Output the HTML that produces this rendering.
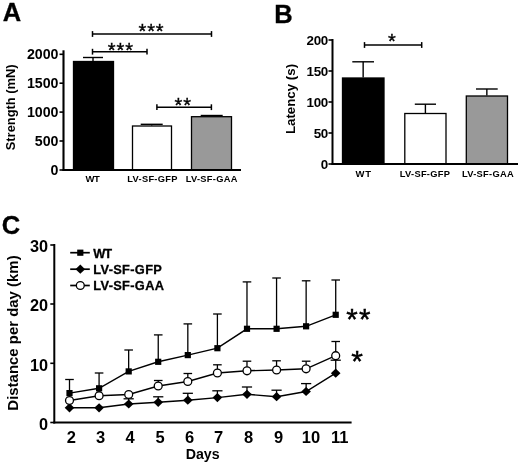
<!DOCTYPE html>
<html lang="en">
<head>
<meta charset="utf-8">
<title>Figure</title>
<style>
html,body{margin:0;padding:0;background:#fff;}
body{width:520px;height:465px;overflow:hidden;}
svg{display:block;will-change:transform;filter:blur(0.35px);font-family:"Liberation Sans", sans-serif;fill:#000;}
</style>
</head>
<body>
<svg width="520" height="465" viewBox="0 0 520 465">
<rect x="0" y="0" width="520" height="465" fill="#fff"/>
<text x="2.7" y="20.5" font-size="25.5" font-weight="bold" text-anchor="start" stroke="#000" stroke-width="0.3">A</text>
<line x1="93.0" y1="57.5" x2="93.0" y2="61" stroke="#000" stroke-width="1.4" />
<line x1="83" y1="57.5" x2="103" y2="57.5" stroke="#000" stroke-width="1.4" />
<rect x="73.5" y="61.5" width="40" height="108.5" fill="#000" stroke="#000" stroke-width="1.3"/>
<line x1="151.7" y1="124.3" x2="151.7" y2="125.5" stroke="#000" stroke-width="1.4" />
<line x1="140.7" y1="124.3" x2="162.7" y2="124.3" stroke="#000" stroke-width="1.4" />
<rect x="132.5" y="126.0" width="39" height="44.0" fill="#fff" stroke="#000" stroke-width="1.3"/>
<line x1="211.7" y1="115.5" x2="211.7" y2="116.2" stroke="#000" stroke-width="1.4" />
<line x1="200.7" y1="115.5" x2="222.7" y2="115.5" stroke="#000" stroke-width="1.4" />
<rect x="191.5" y="116.7" width="40" height="53.3" fill="#999" stroke="#000" stroke-width="1.3"/>
<line x1="63.5" y1="50.3" x2="63.5" y2="171" stroke="#000" stroke-width="2.1" />
<line x1="62.5" y1="170" x2="241" y2="170" stroke="#000" stroke-width="2" />
<line x1="59.5" y1="54.3" x2="63.5" y2="54.3" stroke="#000" stroke-width="1.6" />
<text x="58.5" y="59.3" font-size="14.2" font-weight="bold" text-anchor="end" >2000</text>
<line x1="59.5" y1="83.2" x2="63.5" y2="83.2" stroke="#000" stroke-width="1.6" />
<text x="58.5" y="88.2" font-size="14.2" font-weight="bold" text-anchor="end" >1500</text>
<line x1="59.5" y1="112.1" x2="63.5" y2="112.1" stroke="#000" stroke-width="1.6" />
<text x="58.5" y="117.1" font-size="14.2" font-weight="bold" text-anchor="end" >1000</text>
<line x1="59.5" y1="141" x2="63.5" y2="141" stroke="#000" stroke-width="1.6" />
<text x="58.5" y="146" font-size="14.2" font-weight="bold" text-anchor="end" >500</text>
<line x1="59.5" y1="170" x2="63.5" y2="170" stroke="#000" stroke-width="1.6" />
<text x="58.5" y="175" font-size="14.2" font-weight="bold" text-anchor="end" >0</text>
<text transform="translate(15.2,107.3) rotate(-90)" font-size="12.9" font-weight="bold" text-anchor="middle" >Strength (mN)</text>
<line x1="92.5" y1="34" x2="211.5" y2="34" stroke="#000" stroke-width="1.5" />
<line x1="92.5" y1="31.1" x2="92.5" y2="36.9" stroke="#000" stroke-width="1.5" />
<line x1="211.5" y1="31.1" x2="211.5" y2="36.9" stroke="#000" stroke-width="1.5" />
<line x1="92.5" y1="51.7" x2="147" y2="51.7" stroke="#000" stroke-width="1.5" />
<line x1="92.5" y1="48.800000000000004" x2="92.5" y2="54.6" stroke="#000" stroke-width="1.5" />
<line x1="147" y1="48.800000000000004" x2="147" y2="54.6" stroke="#000" stroke-width="1.5" />
<line x1="156.9" y1="107.2" x2="211.4" y2="107.2" stroke="#000" stroke-width="1.5" />
<line x1="156.9" y1="104.3" x2="156.9" y2="110.10000000000001" stroke="#000" stroke-width="1.5" />
<line x1="211.4" y1="104.3" x2="211.4" y2="110.10000000000001" stroke="#000" stroke-width="1.5" />
<text x="151.5" y="38.3" font-size="20" font-weight="normal" text-anchor="middle" stroke="#000" stroke-width="0.35" letter-spacing="0.9">***</text>
<text x="120.8" y="57" font-size="20" font-weight="normal" text-anchor="middle" stroke="#000" stroke-width="0.35" letter-spacing="0.9">***</text>
<text x="183.2" y="111.5" font-size="20" font-weight="normal" text-anchor="middle" stroke="#000" stroke-width="0.35" letter-spacing="0.9">**</text>
<text x="92.5" y="182.3" font-size="9.5" font-weight="bold" text-anchor="middle" letter-spacing="-0.5">WT</text>
<text x="152.5" y="182" font-size="9.3" font-weight="bold" text-anchor="middle" letter-spacing="0.3">LV-SF-GFP</text>
<text x="211.7" y="182" font-size="9.3" font-weight="bold" text-anchor="middle" letter-spacing="0.3">LV-SF-GAA</text>
<text x="274.2" y="23" font-size="25.5" font-weight="bold" text-anchor="start" stroke="#000" stroke-width="0.3">B</text>
<line x1="363.15" y1="61.8" x2="363.15" y2="77.5" stroke="#000" stroke-width="1.4" />
<line x1="352.3" y1="61.8" x2="374" y2="61.8" stroke="#000" stroke-width="1.4" />
<rect x="342.5" y="78.0" width="41.5" height="86.0" fill="#000" stroke="#000" stroke-width="1.3"/>
<line x1="425.4" y1="104.2" x2="425.4" y2="113" stroke="#000" stroke-width="1.4" />
<line x1="414.8" y1="104.2" x2="436" y2="104.2" stroke="#000" stroke-width="1.4" />
<rect x="404.8" y="113.5" width="41.19999999999999" height="50.5" fill="#fff" stroke="#000" stroke-width="1.3"/>
<line x1="486.85" y1="89" x2="486.85" y2="95.5" stroke="#000" stroke-width="1.4" />
<line x1="476" y1="89" x2="497.7" y2="89" stroke="#000" stroke-width="1.4" />
<rect x="466.3" y="96.0" width="41.19999999999999" height="68.0" fill="#999" stroke="#000" stroke-width="1.3"/>
<line x1="332.5" y1="39" x2="332.5" y2="165" stroke="#000" stroke-width="2" />
<line x1="331.5" y1="164" x2="518" y2="164" stroke="#000" stroke-width="2" />
<line x1="328.5" y1="40" x2="332.5" y2="40" stroke="#000" stroke-width="1.6" />
<text x="327.9" y="44.9" font-size="13.4" font-weight="bold" text-anchor="end" letter-spacing="-0.35">200</text>
<line x1="328.5" y1="71" x2="332.5" y2="71" stroke="#000" stroke-width="1.6" />
<text x="327.9" y="75.9" font-size="13.4" font-weight="bold" text-anchor="end" letter-spacing="-0.35">150</text>
<line x1="328.5" y1="102" x2="332.5" y2="102" stroke="#000" stroke-width="1.6" />
<text x="327.9" y="106.9" font-size="13.4" font-weight="bold" text-anchor="end" letter-spacing="-0.35">100</text>
<line x1="328.5" y1="133" x2="332.5" y2="133" stroke="#000" stroke-width="1.6" />
<text x="327.9" y="137.9" font-size="13.4" font-weight="bold" text-anchor="end" letter-spacing="-0.35">50</text>
<line x1="328.5" y1="164" x2="332.5" y2="164" stroke="#000" stroke-width="1.6" />
<text x="327.9" y="168.9" font-size="13.4" font-weight="bold" text-anchor="end" letter-spacing="-0.35">0</text>
<text transform="translate(294.6,99) rotate(-90)" font-size="13.3" font-weight="bold" text-anchor="middle" >Latency (s)</text>
<line x1="364.5" y1="45" x2="421.7" y2="45" stroke="#000" stroke-width="1.5" />
<line x1="364.5" y1="42.1" x2="364.5" y2="47.9" stroke="#000" stroke-width="1.5" />
<line x1="421.7" y1="42.1" x2="421.7" y2="47.9" stroke="#000" stroke-width="1.5" />
<text x="392.3" y="48.3" font-size="20" font-weight="normal" text-anchor="middle" stroke="#000" stroke-width="0.35" letter-spacing="0.9">*</text>
<text x="363.6" y="176.7" font-size="9.5" font-weight="bold" text-anchor="middle" letter-spacing="0.6">WT</text>
<text x="425" y="176.7" font-size="9.3" font-weight="bold" text-anchor="middle" letter-spacing="0.3">LV-SF-GFP</text>
<text x="488" y="176.7" font-size="9.3" font-weight="bold" text-anchor="middle" letter-spacing="0.3">LV-SF-GAA</text>
<text x="1.7" y="233.6" font-size="25.5" font-weight="bold" text-anchor="start" stroke="#000" stroke-width="0.3">C</text>
<line x1="69.5" y1="393.1" x2="69.5" y2="379.5" stroke="#000" stroke-width="1.3" />
<line x1="65.2" y1="379.5" x2="73.8" y2="379.5" stroke="#000" stroke-width="1.3" />
<line x1="99.08" y1="388.3" x2="99.08" y2="373" stroke="#000" stroke-width="1.3" />
<line x1="94.78" y1="373" x2="103.38" y2="373" stroke="#000" stroke-width="1.3" />
<line x1="128.66" y1="371.4" x2="128.66" y2="350" stroke="#000" stroke-width="1.3" />
<line x1="124.36" y1="350" x2="132.96" y2="350" stroke="#000" stroke-width="1.3" />
<line x1="158.24" y1="361.8" x2="158.24" y2="334.9" stroke="#000" stroke-width="1.3" />
<line x1="153.94" y1="334.9" x2="162.54000000000002" y2="334.9" stroke="#000" stroke-width="1.3" />
<line x1="187.82" y1="355.1" x2="187.82" y2="323.9" stroke="#000" stroke-width="1.3" />
<line x1="183.51999999999998" y1="323.9" x2="192.12" y2="323.9" stroke="#000" stroke-width="1.3" />
<line x1="217.39999999999998" y1="348.2" x2="217.39999999999998" y2="314" stroke="#000" stroke-width="1.3" />
<line x1="213.09999999999997" y1="314" x2="221.7" y2="314" stroke="#000" stroke-width="1.3" />
<line x1="246.98" y1="328.8" x2="246.98" y2="281.9" stroke="#000" stroke-width="1.3" />
<line x1="242.67999999999998" y1="281.9" x2="251.28" y2="281.9" stroke="#000" stroke-width="1.3" />
<line x1="276.56" y1="328.8" x2="276.56" y2="278" stroke="#000" stroke-width="1.3" />
<line x1="272.26" y1="278" x2="280.86" y2="278" stroke="#000" stroke-width="1.3" />
<line x1="306.14" y1="326.3" x2="306.14" y2="280.8" stroke="#000" stroke-width="1.3" />
<line x1="301.84" y1="280.8" x2="310.44" y2="280.8" stroke="#000" stroke-width="1.3" />
<line x1="335.71999999999997" y1="314.8" x2="335.71999999999997" y2="280" stroke="#000" stroke-width="1.3" />
<line x1="331.41999999999996" y1="280" x2="340.02" y2="280" stroke="#000" stroke-width="1.3" />
<line x1="128.66" y1="404" x2="128.66" y2="398.8" stroke="#000" stroke-width="1.3" />
<line x1="123.56" y1="398.8" x2="133.76" y2="398.8" stroke="#000" stroke-width="1.3" />
<line x1="158.24" y1="402.3" x2="158.24" y2="396.8" stroke="#000" stroke-width="1.3" />
<line x1="153.14000000000001" y1="396.8" x2="163.34" y2="396.8" stroke="#000" stroke-width="1.3" />
<line x1="187.82" y1="400.2" x2="187.82" y2="393.3" stroke="#000" stroke-width="1.3" />
<line x1="182.72" y1="393.3" x2="192.92" y2="393.3" stroke="#000" stroke-width="1.3" />
<line x1="217.39999999999998" y1="397.6" x2="217.39999999999998" y2="390.8" stroke="#000" stroke-width="1.3" />
<line x1="212.29999999999998" y1="390.8" x2="222.49999999999997" y2="390.8" stroke="#000" stroke-width="1.3" />
<line x1="246.98" y1="394.3" x2="246.98" y2="387" stroke="#000" stroke-width="1.3" />
<line x1="241.88" y1="387" x2="252.07999999999998" y2="387" stroke="#000" stroke-width="1.3" />
<line x1="276.56" y1="396.7" x2="276.56" y2="390.2" stroke="#000" stroke-width="1.3" />
<line x1="271.46" y1="390.2" x2="281.66" y2="390.2" stroke="#000" stroke-width="1.3" />
<line x1="306.14" y1="391.5" x2="306.14" y2="383.6" stroke="#000" stroke-width="1.3" />
<line x1="301.03999999999996" y1="383.6" x2="311.24" y2="383.6" stroke="#000" stroke-width="1.3" />
<line x1="335.71999999999997" y1="373.2" x2="335.71999999999997" y2="360.2" stroke="#000" stroke-width="1.3" />
<line x1="330.61999999999995" y1="360.2" x2="340.82" y2="360.2" stroke="#000" stroke-width="1.3" />
<line x1="158.24" y1="386" x2="158.24" y2="380.5" stroke="#000" stroke-width="1.3" />
<line x1="153.94" y1="380.5" x2="162.54000000000002" y2="380.5" stroke="#000" stroke-width="1.3" />
<line x1="187.82" y1="381.5" x2="187.82" y2="373.5" stroke="#000" stroke-width="1.3" />
<line x1="183.51999999999998" y1="373.5" x2="192.12" y2="373.5" stroke="#000" stroke-width="1.3" />
<line x1="217.39999999999998" y1="373" x2="217.39999999999998" y2="364.8" stroke="#000" stroke-width="1.3" />
<line x1="213.09999999999997" y1="364.8" x2="221.7" y2="364.8" stroke="#000" stroke-width="1.3" />
<line x1="246.98" y1="370.8" x2="246.98" y2="361.2" stroke="#000" stroke-width="1.3" />
<line x1="242.67999999999998" y1="361.2" x2="251.28" y2="361.2" stroke="#000" stroke-width="1.3" />
<line x1="276.56" y1="370" x2="276.56" y2="360.8" stroke="#000" stroke-width="1.3" />
<line x1="272.26" y1="360.8" x2="280.86" y2="360.8" stroke="#000" stroke-width="1.3" />
<line x1="306.14" y1="368.8" x2="306.14" y2="361.2" stroke="#000" stroke-width="1.3" />
<line x1="301.84" y1="361.2" x2="310.44" y2="361.2" stroke="#000" stroke-width="1.3" />
<line x1="335.71999999999997" y1="355.7" x2="335.71999999999997" y2="341.5" stroke="#000" stroke-width="1.3" />
<line x1="331.41999999999996" y1="341.5" x2="340.02" y2="341.5" stroke="#000" stroke-width="1.3" />
<polyline points="69.5,393.1 99.1,388.3 128.7,371.4 158.2,361.8 187.8,355.1 217.4,348.2 247.0,328.8 276.6,328.8 306.1,326.3 335.7,314.8" fill="none" stroke="#000" stroke-width="1.4"/>
<polyline points="69.5,407.8 99.1,407.8 128.7,404 158.2,402.3 187.8,400.2 217.4,397.6 247.0,394.3 276.6,396.7 306.1,391.5 335.7,373.2" fill="none" stroke="#000" stroke-width="1.4"/>
<polyline points="69.5,400.5 99.1,395.7 128.7,394.5 158.2,386 187.8,381.5 217.4,373 247.0,370.8 276.6,370 306.1,368.8 335.7,355.7" fill="none" stroke="#000" stroke-width="1.4"/>
<rect x="66.4" y="390.0" width="6.2" height="6.2" fill="#000"/>
<rect x="96.0" y="385.2" width="6.2" height="6.2" fill="#000"/>
<rect x="125.6" y="368.3" width="6.2" height="6.2" fill="#000"/>
<rect x="155.1" y="358.7" width="6.2" height="6.2" fill="#000"/>
<rect x="184.7" y="352.0" width="6.2" height="6.2" fill="#000"/>
<rect x="214.3" y="345.1" width="6.2" height="6.2" fill="#000"/>
<rect x="243.9" y="325.7" width="6.2" height="6.2" fill="#000"/>
<rect x="273.5" y="325.7" width="6.2" height="6.2" fill="#000"/>
<rect x="303.0" y="323.2" width="6.2" height="6.2" fill="#000"/>
<rect x="332.6" y="311.7" width="6.2" height="6.2" fill="#000"/>
<polygon points="64.7,407.8 69.5,403.2 74.3,407.8 69.5,412.40000000000003" fill="#000"/>
<polygon points="94.3,407.8 99.1,403.2 103.9,407.8 99.1,412.40000000000003" fill="#000"/>
<polygon points="123.9,404 128.7,399.4 133.5,404 128.7,408.6" fill="#000"/>
<polygon points="153.4,402.3 158.2,397.7 163.0,402.3 158.2,406.90000000000003" fill="#000"/>
<polygon points="183.0,400.2 187.8,395.59999999999997 192.6,400.2 187.8,404.8" fill="#000"/>
<polygon points="212.6,397.6 217.4,393.0 222.2,397.6 217.4,402.20000000000005" fill="#000"/>
<polygon points="242.2,394.3 247.0,389.7 251.8,394.3 247.0,398.90000000000003" fill="#000"/>
<polygon points="271.8,396.7 276.6,392.09999999999997 281.4,396.7 276.6,401.3" fill="#000"/>
<polygon points="301.3,391.5 306.1,386.9 310.9,391.5 306.1,396.1" fill="#000"/>
<polygon points="330.9,373.2 335.7,368.59999999999997 340.5,373.2 335.7,377.8" fill="#000"/>
<circle cx="69.5" cy="400.5" r="3.95" fill="#fff" stroke="#000" stroke-width="1.3"/>
<circle cx="99.1" cy="395.7" r="3.95" fill="#fff" stroke="#000" stroke-width="1.3"/>
<circle cx="128.7" cy="394.5" r="3.95" fill="#fff" stroke="#000" stroke-width="1.3"/>
<circle cx="158.2" cy="386" r="3.95" fill="#fff" stroke="#000" stroke-width="1.3"/>
<circle cx="187.8" cy="381.5" r="3.95" fill="#fff" stroke="#000" stroke-width="1.3"/>
<circle cx="217.4" cy="373" r="3.95" fill="#fff" stroke="#000" stroke-width="1.3"/>
<circle cx="247.0" cy="370.8" r="3.95" fill="#fff" stroke="#000" stroke-width="1.3"/>
<circle cx="276.6" cy="370" r="3.95" fill="#fff" stroke="#000" stroke-width="1.3"/>
<circle cx="306.1" cy="368.8" r="3.95" fill="#fff" stroke="#000" stroke-width="1.3"/>
<circle cx="335.7" cy="355.7" r="3.95" fill="#fff" stroke="#000" stroke-width="1.3"/>
<line x1="54.3" y1="244" x2="54.3" y2="423.5" stroke="#000" stroke-width="2" />
<line x1="53.3" y1="422.5" x2="351.6" y2="422.5" stroke="#000" stroke-width="2" />
<line x1="50.3" y1="245" x2="54.3" y2="245" stroke="#000" stroke-width="1.6" />
<text x="48" y="252.4" font-size="16.3" font-weight="bold" text-anchor="end" >30</text>
<line x1="50.3" y1="304" x2="54.3" y2="304" stroke="#000" stroke-width="1.6" />
<text x="48" y="311.4" font-size="16.3" font-weight="bold" text-anchor="end" >20</text>
<line x1="50.3" y1="363.3" x2="54.3" y2="363.3" stroke="#000" stroke-width="1.6" />
<text x="48" y="370.7" font-size="16.3" font-weight="bold" text-anchor="end" >10</text>
<line x1="50.3" y1="422.5" x2="54.3" y2="422.5" stroke="#000" stroke-width="1.6" />
<text x="48" y="429.9" font-size="16.3" font-weight="bold" text-anchor="end" >0</text>
<text transform="translate(18.2,333) rotate(-90)" font-size="14.95" font-weight="bold" text-anchor="middle" >Distance per day (km)</text>
<text x="71.4" y="443" font-size="16.5" font-weight="bold" text-anchor="middle" >2</text>
<text x="100.5" y="443" font-size="16.5" font-weight="bold" text-anchor="middle" >3</text>
<text x="130.2" y="443" font-size="16.5" font-weight="bold" text-anchor="middle" >4</text>
<text x="160.2" y="443" font-size="16.5" font-weight="bold" text-anchor="middle" >5</text>
<text x="189.7" y="443" font-size="16.5" font-weight="bold" text-anchor="middle" >6</text>
<text x="218.7" y="443" font-size="16.5" font-weight="bold" text-anchor="middle" >7</text>
<text x="248.7" y="443" font-size="16.5" font-weight="bold" text-anchor="middle" >8</text>
<text x="278.5" y="443" font-size="16.5" font-weight="bold" text-anchor="middle" >9</text>
<text x="311" y="443" font-size="16.5" font-weight="bold" text-anchor="middle" >10</text>
<text x="339.8" y="443" font-size="16.5" font-weight="bold" text-anchor="middle" >11</text>
<text x="202.7" y="458.5" font-size="14.2" font-weight="bold" text-anchor="middle" >Days</text>
<line x1="70.2" y1="252.7" x2="89.8" y2="252.7" stroke="#000" stroke-width="1.7" />
<rect x="77.2" y="249.6" width="6.2" height="6.2" fill="#000"/>
<line x1="70.2" y1="269.2" x2="89.8" y2="269.2" stroke="#000" stroke-width="1.7" />
<polygon points="75.5,269.2 80.3,264.59999999999997 85.1,269.2 80.3,273.8" fill="#000"/>
<line x1="70.2" y1="285.5" x2="89.8" y2="285.5" stroke="#000" stroke-width="1.7" />
<circle cx="80.3" cy="285.5" r="3.95" fill="#fff" stroke="#000" stroke-width="1.3"/>
<text x="93.3" y="257.5" font-size="12.8" font-weight="bold" text-anchor="start" stroke="#000" stroke-width="0.3" letter-spacing="-1.1">WT</text>
<text x="93.3" y="273.8" font-size="12.8" font-weight="bold" text-anchor="start" stroke="#000" stroke-width="0.3" letter-spacing="0.33">LV-SF-GFP</text>
<text x="93.3" y="290" font-size="12.8" font-weight="bold" text-anchor="start" stroke="#000" stroke-width="0.3" letter-spacing="0.33">LV-SF-GAA</text>
<text x="359" y="329.3" font-size="29.5" font-weight="normal" text-anchor="middle" stroke="#000" stroke-width="0.45" letter-spacing="1.3">**</text>
<text x="357.2" y="371.2" font-size="30" font-weight="normal" text-anchor="middle" stroke="#000" stroke-width="0.45">*</text>
</svg>
</body>
</html>
